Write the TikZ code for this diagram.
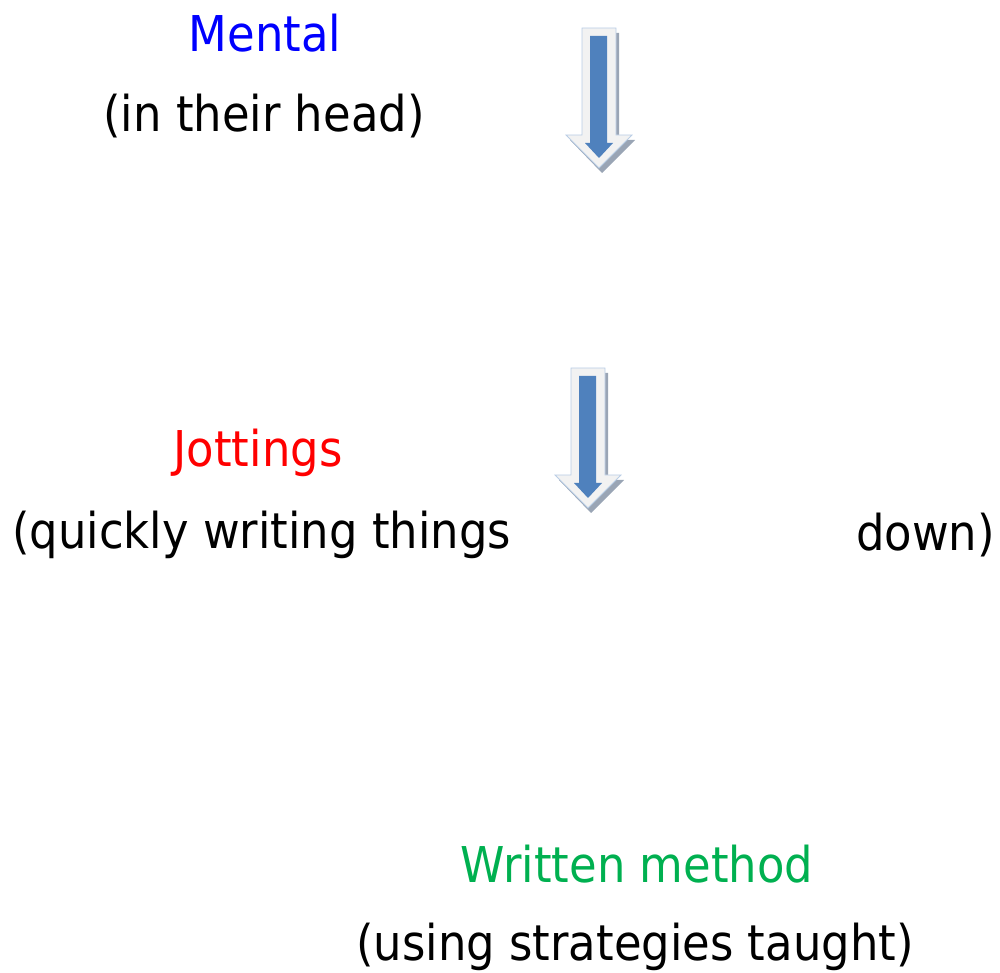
\documentclass[tikz,border=0pt]{standalone}
\usepackage{fontspec}
\setmainfont[FakeStretch=0.91]{DejaVu Sans}
\definecolor{mblue}{HTML}{0000FF}
\definecolor{mred}{HTML}{FF0000}
\definecolor{mgreen}{HTML}{00B050}
\definecolor{arrowblue}{HTML}{4F81BD}
\definecolor{arrowface}{HTML}{F2F2F2}
\definecolor{arrowedge}{HTML}{B9CDE5}
\definecolor{arrowshadow}{HTML}{9AA5B5}
\tikzset{
  lbl/.style={inner sep=0pt, font=\fontsize{37}{44}\selectfont},
  pics/downarrow/.style={code={
    \fill[arrowshadow] (3,5) -- (37,5) -- (37,112) -- (53,112) -- (20,145) -- (-12,112) -- (3,112) -- cycle;
    \filldraw[fill=arrowface, draw=arrowedge, line width=0.6pt] (0,0) -- (34,0) -- (34,107) -- (50,107) -- (17,140) -- (-16,107) -- (0,107) -- cycle;
    \fill[arrowblue] (8,8) -- (25,8) -- (25,115) -- (31,115) -- (17,130) -- (3,115) -- (8,115) -- cycle;
  }}
}
\begin{document}
\begin{tikzpicture}[x=0.75pt,y=-0.75pt]
\useasboundingbox (0,0) rectangle (1000,973);
\node[lbl, anchor=base, text=mblue] (mental) at (265,52) {Mental};
\node[lbl, anchor=base] (mentalsub) at (264,132) {(in their head)};
\node[lbl, anchor=base, text=mred] (jot) at (258,467) {Jottings};
\node[lbl, anchor=base west] (jotsub) at (12,548) {(quickly writing things};
\node[lbl, anchor=base east] (jotdown) at (995,550) {down)};
\node[lbl, anchor=base, text=mgreen] (written) at (637,882) {Written method};
\node[lbl, anchor=base] (writtensub) at (635,960) {(using strategies taught)};
\pic at (582,28) {downarrow};
\pic at (571,368) {downarrow};
\end{tikzpicture}
\end{document}
